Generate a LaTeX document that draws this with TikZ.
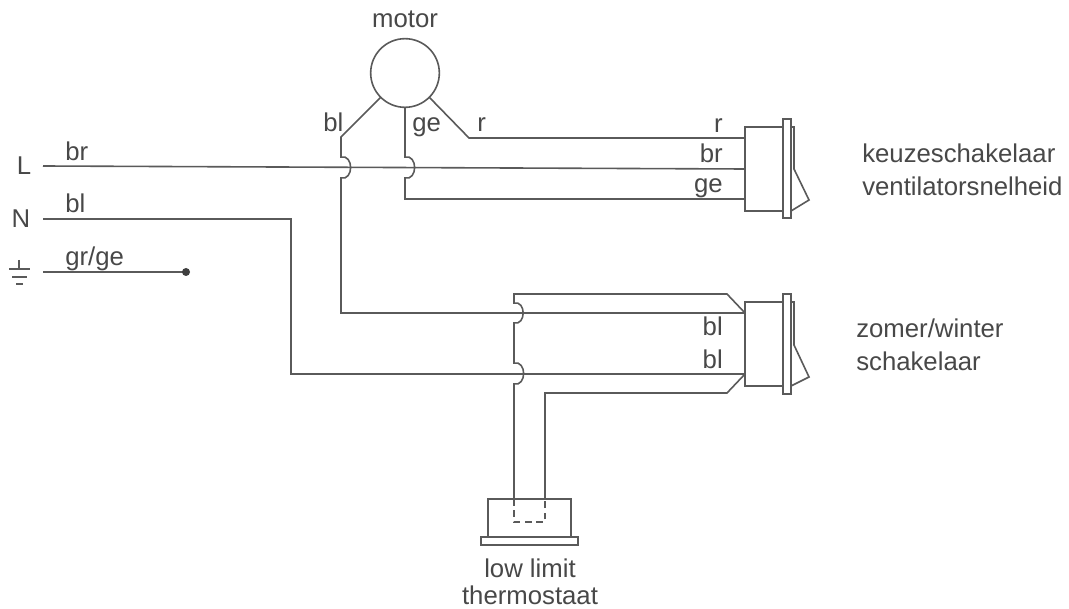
\documentclass[tikz,border=0pt]{standalone}
\usepackage{fontspec}
\setmainfont{Liberation Sans}
\begin{document}
\begin{tikzpicture}[x=0.75pt,y=-0.75pt,
  wire/.style={draw=wirecol,line width=1.2pt,line join=miter},
  hop/.style={out=12,in=-12,looseness=1.6},
  box/.style={draw=wirecol,line width=1.2pt,rectangle,inner sep=0pt,outer sep=0pt},
  lbl/.style={text=textcol,inner sep=0pt,font=\fontsize{19.3}{23}\selectfont},
  lb/.style={lbl,anchor=base},
  lw/.style={lbl,anchor=base west},
  le/.style={lbl,anchor=base east}]
\definecolor{wirecol}{HTML}{5A5A5A}
\definecolor{textcol}{HTML}{484848}
\useasboundingbox (0,0) rectangle (1069,609);
\fill[white] (0,0) rectangle (1069,609);

% motor
\node[box,circle,minimum size=51.5pt] (motor) at (405,73) {};
\node[lb] (tmotor) at (405,28) {motor};

% switches
\node[box,minimum width=28.5pt,minimum height=63pt] (sw1) at (764,169) {};
\node[box,minimum width=6pt,minimum height=74.25pt] (fl1) at (787,168.5) {};
\node[box,minimum width=28.5pt,minimum height=63pt] (sw2) at (764,344) {};
\node[box,minimum width=6pt,minimum height=75pt] (fl2) at (787,344) {};
\draw[wire] (791,127) -- (794,127) -- (794,169) -- (809,200) -- (791,211);
\draw[wire] (791,302) -- (794,302) -- (794,345) -- (809,377) -- (791,386);

% thermostat
\node[box,minimum width=62.25pt,minimum height=28.5pt] (th) at (529.5,518) {};
\node[box,minimum width=72.75pt,minimum height=6pt] (thb) at (529.5,541) {};

% named points
\coordinate (bA) at (341,137);
\coordinate (bB) at (341,157);
\coordinate (bC) at (341,178);
\coordinate (bD) at (341,313);
\coordinate (gB) at (405,157);
\coordinate (gC) at (405,178);
\coordinate (gD) at (405,199);
\coordinate (rA) at (469,138);
\coordinate (rE) at (745,138);
\coordinate (brW) at (43,166);
\coordinate (brE) at (745,169);
\coordinate (gE) at (745,199);
\coordinate (s2a) at (745,313);
\coordinate (s2b) at (745,374);
\coordinate (nW) at (43,219);
\coordinate (nA) at (291,219);
\coordinate (nB) at (291,374);
\coordinate (eW) at (43,272);
\coordinate (eE) at (186,272);
\coordinate (tA) at (514,294);
\coordinate (tB) at (727,294);
\coordinate (tC) at (514,303);
\coordinate (tD) at (514,323);
\coordinate (tE) at (514,363);
\coordinate (tF) at (514,384);
\coordinate (tG) at (514,499);
\coordinate (uA) at (545,393);
\coordinate (uB) at (727,393);
\coordinate (uC) at (545,499);
\coordinate (dA) at (514,522);
\coordinate (dB) at (545,522);

% wires
\draw[wire] (motor.225) -- (bA) -- (bB) to[hop] (bC) -- (bD) -- (s2a);
\draw[wire] (motor.south) -- (gB) to[hop] (gC) -- (gD) -- (gE);
\draw[wire] (motor.-45) -- (rA) -- (rE);
\draw[wire] (brW) -- (brE);
\draw[wire] (nW) -- (nA) -- (nB) -- (s2b);
\draw[wire] (eW) -- (eE);
\fill[wirecol!70!black] (eE) circle (4);
\draw[wire] (s2a) -- (tB) -- (tA) -- (tC) to[hop] (tD) -- (tE) to[hop] (tF) -- (tG);
\draw[wire] (s2b) -- (uB) -- (uA) -- (uC);
\draw[wire,dash pattern=on 5pt off 3.5pt] (tG) -- (dA) -- (dB) -- (uC);

% earth symbol
\coordinate (g0) at (19,260);
\coordinate (g1) at (19,269);
\draw[wire] (g0) -- (g1);
\draw[wire] (9,269) -- (30,269);
\draw[wire] (12,277) -- (27,277);
\draw[wire] (16,284) -- (23,284);

% labels
\node[lb] (tL) at (24,175) {L};
\node[lb] (tN) at (21,228) {N};
\node[lw] (t1) at (65,161) {br};
\node[lw] (t2) at (65,213) {bl};
\node[lw] (t3) at (65,266) {gr/ge};
\node[lw] (t4) at (323,132) {bl};
\node[lw] (t5) at (412,132) {ge};
\node[lw] (t6) at (477,132) {r};
\node[le] (t7) at (723,133) {r};
\node[le] (t8) at (723,163) {br};
\node[le] (t9) at (723,193) {ge};
\node[le] (t10) at (723,335) {bl};
\node[le] (t11) at (723,368) {bl};
\node[lb] (t12) at (530,577) {low limit};
\node[lb] (t13) at (530,604) {thermostaat};
\node[lw] (t14) at (862,163) {keuzeschakelaar};
\node[lw] (t15) at (862,196) {ventilatorsnelheid};
\node[lw] (t16) at (856,337) {zomer/winter};
\node[lw] (t17) at (856,370) {schakelaar};
\end{tikzpicture}
\end{document}
